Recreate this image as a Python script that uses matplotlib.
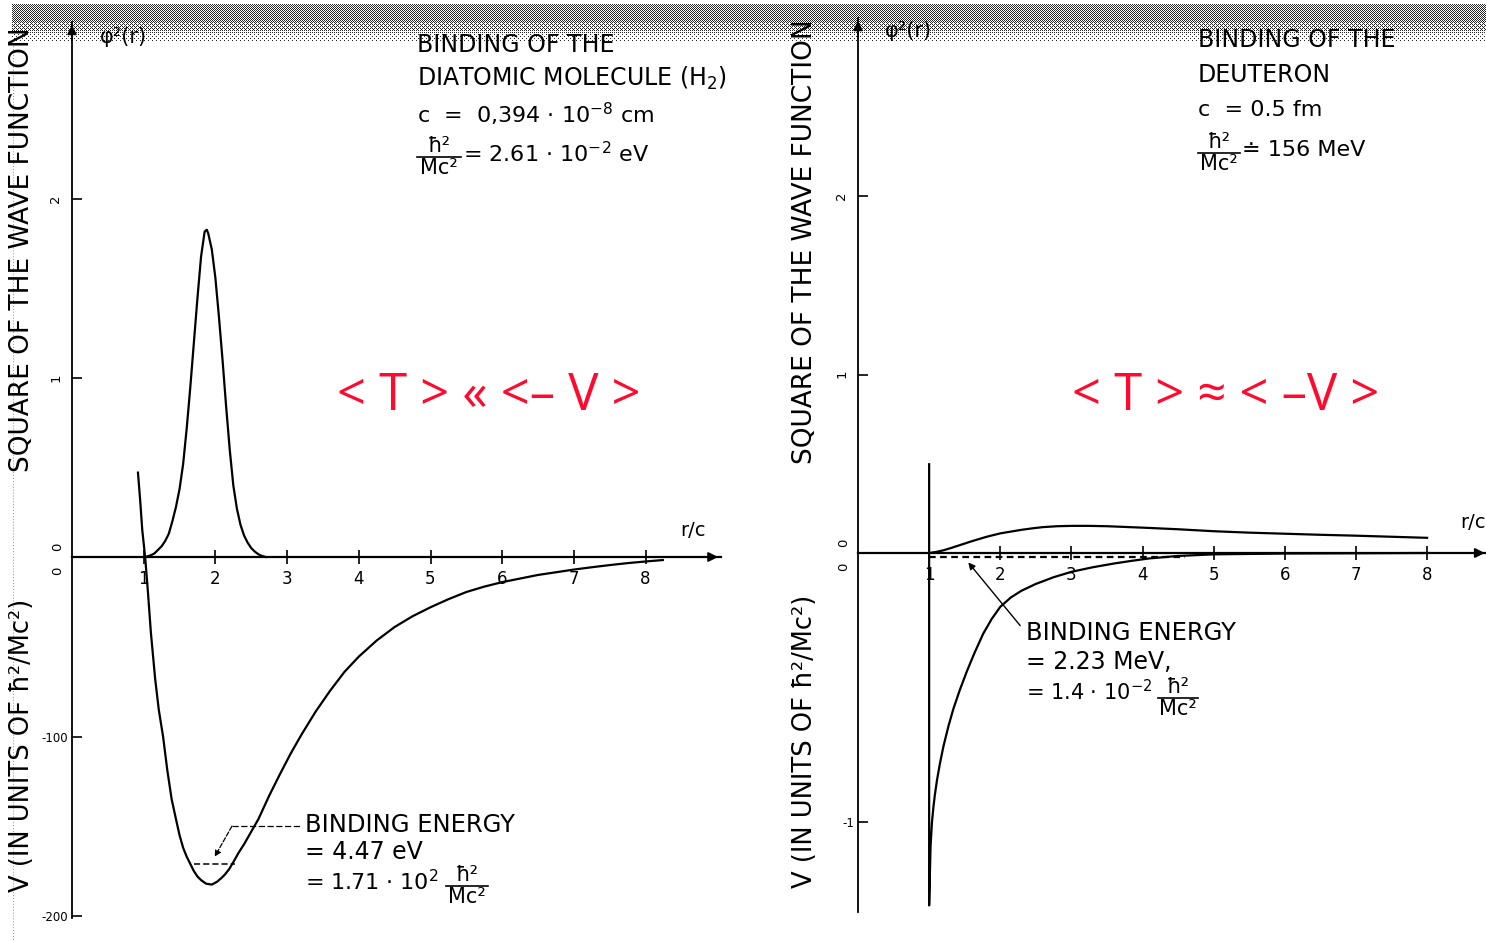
import numpy as np
import matplotlib

matplotlib.use("Agg")
from matplotlib import pyplot as plt

W, H = 1486, 941

# --- H2 molecule (left panel) ---
h2_r_psi = [1.00, 1.05, 1.10, 1.15, 1.20, 1.25, 1.30, 1.35, 1.40, 1.45, 1.50, 1.55,
            1.60, 1.65, 1.70, 1.75, 1.80, 1.85, 1.88, 1.90, 1.95, 2.00, 2.05, 2.10,
            2.15, 2.20, 2.25, 2.30, 2.35, 2.40, 2.45, 2.50, 2.55, 2.60, 2.65, 2.70]
h2_psi2 = [0.00, 0.003, 0.01, 0.02, 0.04, 0.06, 0.09, 0.13, 0.20, 0.28, 0.38, 0.52,
           0.72, 0.95, 1.20, 1.45, 1.68, 1.82, 1.83, 1.81, 1.72, 1.56, 1.34, 1.10,
           0.84, 0.60, 0.40, 0.27, 0.18, 0.12, 0.08, 0.05, 0.03, 0.015, 0.006, 0.0]
h2_r_pot = [0.92, 0.95, 0.98, 1.02, 1.06, 1.10, 1.16, 1.21, 1.27, 1.33, 1.39, 1.45,
            1.50, 1.55, 1.60, 1.65, 1.70, 1.75, 1.80, 1.87, 1.95, 2.02, 2.08, 2.13,
            2.19, 2.25, 2.32, 2.40, 2.50, 2.60, 2.75, 2.90, 3.05, 3.20, 3.40, 3.60,
            3.80, 4.00, 4.25, 4.50, 4.75, 5.00, 5.25, 5.50, 5.75, 6.00, 6.25, 6.50,
            6.75, 7.00, 7.25, 7.50, 7.75, 8.00, 8.24]
h2_pot = [47, 32, 15, 0, -20, -42, -68, -85, -100, -119, -135, -146,
          -155, -162, -167, -171, -175, -178, -180, -182, -182.5, -181, -179, -177,
          -174, -170, -165, -160, -153, -146, -133, -121, -109.5, -99, -86, -74.5,
          -64, -55.5, -46.5, -39, -33, -28, -23.5, -19.5, -16.5, -14, -12, -10,
          -8.5, -7, -5.7, -4.5, -3.4, -2.5, -1.7]
h2_binding = -171.0
h2_psi_ticks = [1, 2]
h2_pot_ticks = [-100, -200]

# --- deuteron (right panel) ---
d_r_psi = [1.0, 1.1, 1.2, 1.3, 1.4, 1.5, 1.6, 1.7, 1.8, 1.9, 2.0, 2.15, 2.3, 2.45,
           2.6, 2.8, 3.0, 3.25, 3.5, 4.0, 4.5, 5.0, 5.5, 6.0, 6.5, 7.0, 7.5, 8.0]
d_psi2 = [0.0, 0.006, 0.015, 0.027, 0.04, 0.053, 0.066, 0.078, 0.09, 0.10, 0.11,
          0.12, 0.13, 0.138, 0.145, 0.15, 0.152, 0.152, 0.15, 0.142, 0.133, 0.122,
          0.114, 0.108, 0.102, 0.097, 0.091, 0.085]
d_r_pot = [1.0, 1.0, 1.02, 1.04, 1.06, 1.08, 1.11, 1.15, 1.20, 1.27, 1.34, 1.43,
           1.53, 1.64, 1.76, 1.88, 2.0, 2.15, 2.3, 2.5, 2.75, 3.0, 3.3, 3.6, 3.85,
           4.1, 4.5, 5.0, 6.0, 7.0, 8.0]
d_pot = [0.33, -1.31, -1.09, -1.00, -0.945, -0.90, -0.845, -0.785, -0.72, -0.645,
         -0.58, -0.51, -0.44, -0.37, -0.30, -0.245, -0.20, -0.165, -0.14, -0.115,
         -0.09, -0.07, -0.053, -0.039, -0.029, -0.02, -0.011, -0.005, -0.002,
         -0.001, 0.0]
d_binding = -0.014
d_psi_ticks = [1, 2]
d_pot_ticks = [-1]

r_ticks = [1, 2, 3, 4, 5, 6, 7, 8]

FONT = "DejaVu Sans"
RED = "#ff0a2e"


def px_axes(fig, left, right, top, bottom, **kw):
    return fig.add_axes([left / W, 1 - bottom / H, (right - left) / W, (bottom - top) / H], **kw)


def make_panel(fig, ox, oy, right, r_px, psi_px, pot_px, axis_top, axis_bot,
               x_end, psi_ticks, pot_ticks, pot_labels, y_style):
    top, bottom = 15, 930
    ax = px_axes(fig, ox, right, top, bottom, facecolor="none")
    ax.set_xlim(0, (right - ox) / r_px)
    ax.set_ylim((oy - bottom) / psi_px, (oy - top) / psi_px)
    ax2 = ax.twinx()
    ax2.set_ylim((oy - bottom) / pot_px, (oy - top) / pot_px)

    for side in ("top", "right"):
        ax.spines[side].set_visible(False)
    for side in ax2.spines:
        ax2.spines[side].set_visible(False)

    ax.spines["left"].set_bounds((oy - axis_bot) / psi_px, (oy - axis_top) / psi_px)
    ax.spines["left"].set_linewidth(1.3)
    ax.spines["left"].set_linestyle(y_style)
    ax.spines["bottom"].set_position(("data", 0))
    ax.spines["bottom"].set_bounds(0, x_end)
    ax.spines["bottom"].set_linewidth(1.6)

    ax.set_xticks(r_ticks, [str(t) for t in r_ticks])
    ax.tick_params(axis="x", direction="inout", length=10, width=1.2, pad=4,
                   labelsize=12)
    ax.set_yticks(psi_ticks, [str(t) for t in psi_ticks])
    ax.tick_params(axis="y", direction="in", length=7, width=1.2, pad=7,
                   labelsize=9.5, labelrotation=90)
    ax2.yaxis.tick_left()
    ax2.set_yticks(pot_ticks, pot_labels)
    ax2.tick_params(axis="y", direction="in", length=7, width=1.2, pad=3,
                    labelsize=8.5)
    for lab in ax.get_xticklabels() + ax.get_yticklabels() + ax2.get_yticklabels():
        lab.set_family(FONT)

    # the two zero labels sit just above and below the r axis
    for dy, axis in ((-10, ax), (14, ax2)):
        axis.annotate("0", xy=(0, 0), xytext=(-14, -dy), textcoords="offset pixels",
                      rotation=90, ha="center", va="center", fontsize=9.5, family=FONT)

    # arrow heads on both axes
    y_top = (oy - axis_top) / psi_px
    ax.annotate("", xy=(0, y_top), xytext=(0, y_top - 0.12),
                arrowprops=dict(arrowstyle="-|>", color="black", lw=1.2, mutation_scale=14))
    ax.annotate("", xy=(x_end, 0), xytext=(x_end - 0.3, 0), annotation_clip=False,
                arrowprops=dict(arrowstyle="-|>", color="black", lw=1.4, mutation_scale=14))
    return ax, ax2


def hbar_fraction(axis, x, y_line, width, fs=15):
    """hbar^2 over Mc^2, drawn with a rule of the given pixel width."""
    xc = x + width / 2
    axis.text(xc, y_line - 1, "ħ²", fontsize=fs, family=FONT, ha="center", va="bottom")
    axis.plot([x, x + width], [y_line, y_line], color="black", lw=1.2)
    axis.text(xc, y_line + 1, "Mc²", fontsize=fs, family=FONT, ha="center", va="top")


fig = plt.figure(figsize=(W / 100, H / 100), dpi=100, facecolor="white")

# background layer in pixel coordinates for the text blocks
bg = fig.add_axes([0, 0, 1, 1])
bg.set_axis_off()

# dithered strip along the top edge
bayer = np.array([[0, 8, 2, 10], [12, 4, 14, 6], [3, 11, 1, 9], [15, 7, 13, 5]]) / 16 + 1 / 32
rows = np.arange(44)
density = np.where(rows < 4, 0.0,
                   np.where(rows < 20, 0.5, np.clip(0.5 - (rows - 20) * 0.022, 0.0, 0.5)))
cols = np.arange(W - 12)
thr = bayer[rows[:, None] % 4, cols[None, :] % 4]
band = np.where(density[:, None] > thr, 0.15, 1.0)
bg.imshow(band, extent=(12, W, 44, 0), cmap="gray", vmin=0, vmax=1,
          interpolation="nearest", aspect="auto")
bg.plot([13, 13], [40, 941], color="0.55", lw=0.7, ls=(0, (1, 2)))
bg.set_xlim(0, W)
bg.set_ylim(H, 0)

# ---------------- left panel ----------------
axL, axL2 = make_panel(fig, ox=72, oy=557, right=735, r_px=71.7, psi_px=178.8,
                       pot_px=1.795, axis_top=22, axis_bot=918, x_end=9.05,
                       psi_ticks=h2_psi_ticks, pot_ticks=h2_pot_ticks,
                       pot_labels=["-100", "-200"], y_style=(0, (2, 1)))
axL.plot(h2_r_psi, h2_psi2, color="black", lw=1.6)
axL2.plot(h2_r_pot, h2_pot, color="black", lw=1.6)
axL2.hlines(h2_binding, 1.70, 2.28, colors="black", linestyles=(0, (4, 2)), lw=1.1)
axL2.plot([2.23, 3.18], [-150, -150], color="black", lw=0.9, ls=(0, (5, 2)))
axL2.annotate("", xy=(1.99, -167), xytext=(2.23, -150),
              arrowprops=dict(arrowstyle="-|>", color="black", lw=0.9, ls="--",
                              mutation_scale=9, shrinkA=0, shrinkB=0))

# ---------------- right panel ----------------
axR, axR2 = make_panel(fig, ox=858, oy=553, right=W, r_px=71.14, psi_px=178.5,
                       pot_px=269.0, axis_top=18, axis_bot=912, x_end=8.85,
                       psi_ticks=d_psi_ticks, pot_ticks=d_pot_ticks,
                       pot_labels=["-1"], y_style="-")
axR.plot(d_r_psi, d_psi2, color="black", lw=1.6)
axR2.plot(d_r_pot, d_pot, color="black", lw=1.6)
axR2.hlines(d_binding, 1.0, 4.6, colors="black", linestyles=(0, (3, 2)), lw=1.6)
axR2.annotate("", xy=(1.55, -0.035), xytext=(2.28, -0.27),
              arrowprops=dict(arrowstyle="-|>", color="black", lw=1.0,
                              mutation_scale=10, shrinkA=0, shrinkB=0))

# ---------------- texts ----------------
txt = dict(family=FONT, color="black", va="center", ha="left")

bg.text(100, 37, "φ²(r)", fontsize=15, **txt)
bg.text(885, 31, "φ²(r)", fontsize=15, **txt)
bg.text(680, 530, "r/c", fontsize=14, **txt)
bg.text(1460, 523, "r/c", fontsize=14, **txt)

bg.text(417, 45, "BINDING OF THE", fontsize=17, **txt)
bg.text(417, 78, "DIATOMIC MOLECULE (H$_2$)", fontsize=17, **txt)
bg.text(417, 114, "c  =  0,394 · 10$^{-8}$ cm", fontsize=16, **txt)
hbar_fraction(bg, 417, 157, 44)
bg.text(463, 154, "= 2.61 · 10$^{-2}$ eV", fontsize=16, **txt)

bg.text(1198, 40, "BINDING OF THE", fontsize=17, **txt)
bg.text(1198, 75, "DEUTERON", fontsize=17, **txt)
bg.text(1198, 110, "c  = 0.5 fm", fontsize=16, **txt)
hbar_fraction(bg, 1198, 153, 42)
bg.text(1242, 150, "≐ 156 MeV", fontsize=16, **txt)

bg.text(305, 825, "BINDING ENERGY", fontsize=17.5, **txt)
bg.text(305, 852, "= 4.47 eV", fontsize=17, **txt)
bg.text(305, 882, "= 1.71 · 10$^{2}$", fontsize=16, **txt)
hbar_fraction(bg, 446, 886, 42)

bg.text(1026, 633, "BINDING ENERGY", fontsize=17.5, **txt)
bg.text(1026, 662, "= 2.23 MeV,", fontsize=17, **txt)
bg.text(1026, 692, "= 1.4 · 10$^{-2}$", fontsize=15, **txt)
hbar_fraction(bg, 1158, 698, 40)

lab = dict(family=FONT, color="black", rotation=90, ha="center", va="bottom")
bg.text(22, 472, "SQUARE OF THE WAVE FUNCTION", fontsize=19, **lab)
bg.text(22, 892, "V (IN UNITS OF ħ²/Mc²)", fontsize=18.5, **lab)
bg.text(805, 464, "SQUARE OF THE WAVE FUNCTION", fontsize=19, **lab)
bg.text(805, 888, "V (IN UNITS OF ħ²/Mc²)", fontsize=18.5, **lab)

red = dict(family=["Open Sans", "DejaVu Sans"], color=RED, fontsize=36.5,
           ha="center", va="center")
bg.text(489, 396, "< T > « <– V >", **red)
bg.text(1226, 396, "< T > ≈ < –V >", **red)

fig.savefig("out.png", dpi=100, facecolor="white")
plt.close(fig)
